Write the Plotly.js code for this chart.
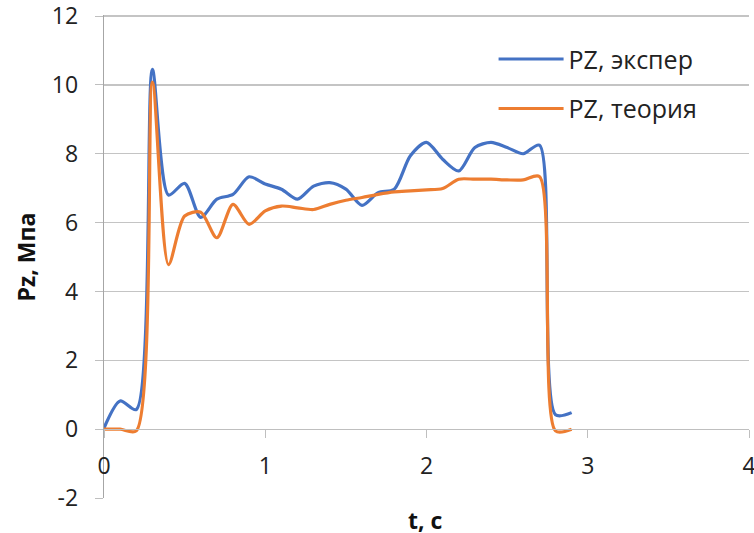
<!DOCTYPE html>
<html>
<head>
<meta charset="utf-8">
<script src="https://cdn.plot.ly/plotly-3.0.1.min.js"></script>
<style>html,body{margin:0;padding:0;background:#fff;}#chart{width:754px;height:533px;}</style>
</head>
<body>
<div id="chart"></div>
<script>
const t = [0,0.1,0.2,0.3,0.4,0.5,0.6,0.7,0.8,0.9,1.0,1.1,1.2,1.3,1.4,1.5,1.6,1.7,1.8,1.9,2.0,2.1,2.2,2.3,2.4,2.5,2.6,2.7,2.8,2.9];
const pzExper = [0.03,0.82,0.57,10.45,6.8,7.14,6.15,6.68,6.82,7.33,7.12,6.97,6.68,7.06,7.16,6.97,6.5,6.87,6.97,7.94,8.33,7.84,7.5,8.18,8.33,8.18,8.0,8.25,0.42,0.48];
const pzTheory = [0,0,-0.05,10.08,4.78,6.19,6.3,5.56,6.53,5.95,6.34,6.48,6.43,6.38,6.53,6.65,6.73,6.82,6.89,6.92,6.95,6.99,7.26,7.26,7.26,7.24,7.24,7.34,-0.05,0];
const seriesNames = ["PZ, экспер","PZ, теория"];
const yTicks = [-2,0,2,4,6,8,10,12];
const xTicks = [0,1,2,3,4];

const font = "Open Sans, Noto Sans, sans-serif";
const fs = 23;
const traces = [
  {x:t, y:pzExper, name:seriesNames[0], type:"scatter", mode:"lines", legendgroup:"a",
   line:{color:"#4472C4", width:3.2, shape:"spline", smoothing:0.8}},
  {x:t, y:pzTheory, name:seriesNames[1], type:"scatter", mode:"lines", legendgroup:"b",
   line:{color:"#ED7D31", width:3.2, shape:"spline", smoothing:0.8}}
];
const layout = {
  width:754, height:533,
  margin:{l:104, r:5, t:15, b:35},
  paper_bgcolor:"#fff", plot_bgcolor:"#fff",
  font:{family:font, size:fs, color:"#222"},
  showlegend:true,
  legend:{x:0.604, y:0.956, xanchor:"left", yanchor:"top", bgcolor:"rgba(0,0,0,0)", itemwidth:65,
          traceorder:"grouped", tracegroupgap:14, font:{family:font, size:25, color:"#222"}},
  xaxis:{range:[0,4], tickvals:xTicks, ticktext:xTicks.map(String), showgrid:false, zeroline:false,
         anchor:"free", position:2/14.03, showline:true, linecolor:"#bfbfbf", linewidth:1.3,
         ticks:"outside", ticklen:8, tickcolor:"#bfbfbf", ticklabeloverflow:"allow", ticklabelstandoff:8,
         tickfont:{family:font, size:fs, color:"#222"}},
  yaxis:{range:[-2,12.03], tickvals:yTicks, ticktext:yTicks.map(String), showgrid:true, gridcolor:"#c4c4c4", gridwidth:1.3,
         zeroline:false, showline:true, linecolor:"#a6a6a6", linewidth:1.3, ticks:"outside", ticklen:8, tickcolor:"#bfbfbf",
         ticklabeloverflow:"allow", ticklabelstandoff:12, tickfont:{family:font, size:fs, color:"#222"}},
  annotations:[
    {text:"<b>t, c</b>", xref:"paper", yref:"paper", x:0.498, y:-0.046, xanchor:"center", yanchor:"middle", showarrow:false,
     font:{family:font, size:fs, color:"#111"}},
    {text:"<b>Pz, Мпа</b>", xref:"paper", yref:"paper", x:-0.121, y:0.5, xanchor:"center", yanchor:"middle", showarrow:false,
     textangle:-90, font:{family:font, size:fs, color:"#111"}}
  ]
};
Plotly.newPlot("chart", traces, layout, {displayModeBar:false, staticPlot:true});
</script>
</body>
</html>
